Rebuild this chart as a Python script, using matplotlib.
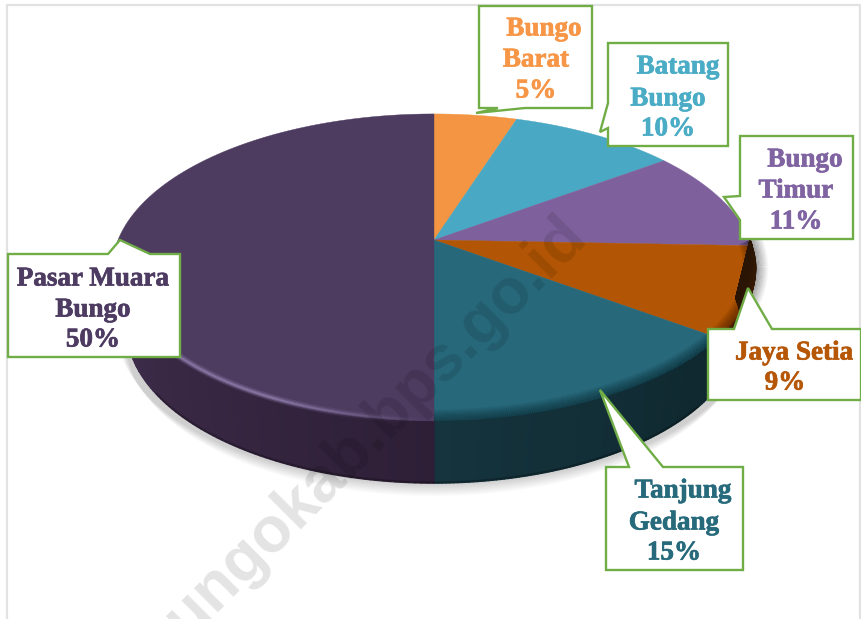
import numpy as np
import matplotlib
matplotlib.use("Agg")
import matplotlib.pyplot as plt
import matplotlib.patheffects as pe
from matplotlib.patches import Polygon
from matplotlib.collections import LineCollection, PolyCollection
from matplotlib.colors import to_rgb

categories = ["Bungo Barat", "Batang Bungo", "Bungo Timur", "Jaya Setia", "Tanjung Gedang", "Pasar Muara Bungo"]
values = [5, 10, 10.6, 9.4, 15, 50]

top_colors = ["#F39543", "#49A8C3", "#7E619C", "#B25504", "#27687A", "#4E3B60"]
text_colors = ["#F79646", "#4BACC6", "#8064A2", "#B65708", "#276A7C", "#4D3B62"]
# wall colours: colour at the start and end of each slice's visible wall
wall_colors = [None, None, ("#2a1404", "#2a1404"), ("#2a1404", "#4a2204"),
               ("#0F272E", "#15343E"), ("#2E1F37", "#42304F")]

CX, CY, A, B, K = 434, 240, 316, 150, 0.19
DEPTH, SHRINK = 58, 0.955


def project(theta, radius=1.0, drop=0.0, xscale=1.0):
    X, Y = radius * np.sin(theta), radius * np.cos(theta)
    d = 1 + K * Y
    return CX + xscale * A * X / d, CY - B * Y / d + drop


def rim_radius(theta):
    return 1.0 - 0.015 * np.clip((theta - np.radians(100)) / np.radians(50), 0, 1)


fig = plt.figure(figsize=(8.61, 6.19), dpi=100)
ax = fig.add_axes([0, 0, 1, 1])
ax.set_xlim(0, 861)
ax.set_ylim(619, 0)
ax.axis("off")

# page frame
ax.plot([7, 7, 860, 860], [619, 5, 5, 619], color="#E2E2E2", lw=1.6, zorder=0)

# soft ground shadow
th = np.linspace(0, 2 * np.pi, 400)
for i in range(16):
    gx, gy = project(th, 1.0, DEPTH + 1 + i * 0.8, SHRINK + 0.002 * (16 - i))
    ax.fill(gx, gy, color="#000000", alpha=0.010, lw=0, zorder=1)

shares = np.array(values, float) / sum(values)
edges = np.concatenate([[0], np.cumsum(shares)]) * 2 * np.pi

# top faces
for i in range(len(values)):
    t = np.linspace(edges[i], edges[i + 1], 160)
    x, y = project(t)
    ax.add_patch(Polygon(np.column_stack([np.r_[CX, x], np.r_[CY, y]]), closed=True,
                         fc=top_colors[i], ec=top_colors[i], lw=0.3, zorder=2))

# rim bevel: soft stacked strokes along the front rim of the darker slices
t = np.linspace(np.pi * 0.5, edges[5], 300)
x, y = project(t, rim_radius(t))
pts = np.column_stack([x, y])
segs = np.stack([pts[:-1], pts[1:]], axis=1)
for w in np.arange(18, 1, -1.5):
    ax.add_collection(LineCollection(segs, colors=[(0, 0, 0, 0.035)], linewidths=w, zorder=3))

# side wall, shaded by angle
polys, cols = [], []
for i in range(len(values)):
    if wall_colors[i] is None:
        continue
    lo, hi = max(edges[i], np.radians(90)), min(edges[i + 1], np.radians(268))
    if hi <= lo:
        continue
    t = np.linspace(lo, hi, 90)
    c0, c1 = np.array(to_rgb(wall_colors[i][0])), np.array(to_rgb(wall_colors[i][1]))
    for j in range(len(t) - 1):
        seg = t[j:j + 2]
        x1, y1 = project(seg, rim_radius(seg))
        x2, y2 = project(seg, 1.0, DEPTH, SHRINK)
        polys.append(np.column_stack([np.r_[x1, x2[::-1]], np.r_[y1, y2[::-1]]]))
        cols.append(c0 + (c1 - c0) * j / (len(t) - 2))
ax.add_collection(PolyCollection(polys, facecolors=cols, edgecolors=cols, linewidths=0.9, zorder=4))

# thin dark line under the wall
t = np.linspace(np.radians(130), np.radians(235), 200)
x2, y2 = project(t, 1.0, DEPTH - 0.8, SHRINK)
ax.plot(x2, y2, color="k", alpha=0.25, lw=1.4, zorder=5)

# rim highlight on the large slice
t = np.linspace(np.radians(181), np.radians(258), 200)
x, y = project(t, 0.975)
pts = np.column_stack([x, y])
segs = np.stack([pts[:-1], pts[1:]], axis=1)
m = 0.5 * (t[:-1] + t[1:])
for lw_, al in [(5.0, 0.25), (3.0, 0.40), (1.3, 0.8)]:
    rgba = np.zeros((len(m), 4))
    rgba[:, :3] = to_rgb("#8C7AA8")
    rgba[:, 3] = np.clip((np.radians(258) - m) / np.radians(28), 0, 1) * np.clip((m - np.radians(181)) / np.radians(25), 0, 1) * al
    ax.add_collection(LineCollection(segs, colors=rgba, linewidths=lw_, zorder=6))

# watermark
ax.text(577, 226, "bungokab.bps.go.id", rotation=45, rotation_mode="anchor", ha="right", va="center",
        fontsize=46, fontweight="bold", family="Liberation Sans", color="#000000", alpha=0.11, zorder=7)

# callouts
callouts = [
    [(479, 6), (592, 6), (592, 108), (525, 108), (476, 113), (498, 108), (479, 108)],
    [(608, 43), (728, 43), (728, 146), (608, 146), (608, 128), (600, 132), (608, 103)],
    [(740, 136), (853, 136), (853, 239), (740, 239), (740, 220), (724, 197), (740, 196)],
    [(708, 329), (734, 329), (748, 288), (772, 329), (861, 329), (861, 400), (708, 400)],
    [(606, 467), (629, 467), (600, 390), (663, 467), (743, 467), (743, 570), (606, 570)],
    [(8, 254), (108, 254), (120, 240), (150, 254), (180, 254), (180, 357), (8, 357)],
]
label_lines = [
    [("Bungo", 544, 29), ("Barat", 536, 60), ("5%", 536, 91)],
    [("Batang", 678, 67), ("Bungo", 668, 99), ("10%", 668, 129)],
    [("Bungo", 805, 160), ("Timur", 796, 191), ("11%", 796, 222)],
    [("Jaya Setia", 794, 353), ("9%", 785, 383)],
    [("Tanjung", 683, 491), ("Gedang", 674, 523), ("15%", 674, 553)],
    [("Pasar Muara", 93, 279), ("Bungo", 93, 310), ("50%", 93, 340)],
]
for poly, lines, col in zip(callouts, label_lines, text_colors):
    ax.add_patch(Polygon(poly, closed=True, fc="white", ec="#70AD47", lw=1.7, joinstyle="miter", zorder=8))
    for s, lx, ly in lines:
        ax.text(lx, ly, s, color=col, fontsize=19.5, fontweight="bold", family="Liberation Serif",
                ha="center", va="center", zorder=9,
                path_effects=[pe.withStroke(linewidth=0.5, foreground=col)])

fig.savefig("out.png", dpi=100)
